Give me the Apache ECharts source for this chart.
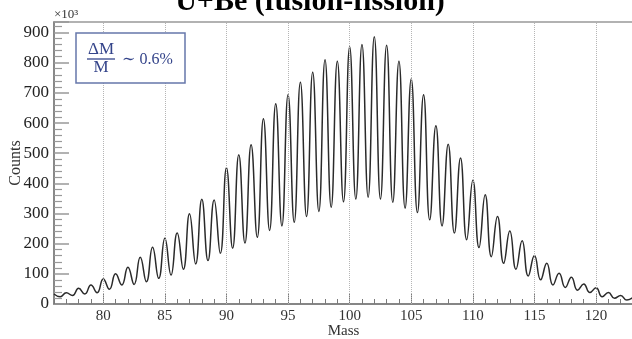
<!DOCTYPE html>
<html><head><meta charset="utf-8">
<script src="https://cdn.jsdelivr.net/npm/echarts@6/dist/echarts.min.js"></script>
<style>html,body{margin:0;padding:0;background:#fff}#c{width:632px;height:339px}</style>
</head><body><div id="c"></div>
<script>
// Peak heights (x10^3 counts) at integer masses
const peakMass = [76,77,78,79,80,81,82,83,84,85,86,87,88,89,90,91,92,93,94,95,96,97,98,99,100,101,102,103,104,105,106,107,108,109,110,111,112,113,114,115,116,117,118,119,120,121,122,123];
const peakCounts = [33,37,52,63,83,100,122,155,188,218,235,299,347,345,452,495,528,614,664,694,735,768,810,805,853,860,886,858,805,746,694,591,530,484,410,362,290,242,210,161,135,102,89,66,54,38,28,22];
// Valley heights between masses
const valleyMass = [76.5,77.5,78.5,79.5,80.5,81.5,82.5,83.5,84.5,85.5,86.5,87.5,88.5,89.5,90.5,91.5,92.5,93.5,94.5,95.5,96.5,97.5,98.5,99.5,100.5,101.5,102.5,103.5,104.5,105.5,106.5,107.5,108.5,109.5,110.5,111.5,112.5,113.5,114.5,115.5,116.5,117.5,118.5,119.5,120.5,121.5,122.5];
const valleyCounts = [24,28,33,37,49,63,65,74,85,96,115,133,144,168,185,202,221,244,259,271,290,307,321,339,348,354,348,337,318,303,279,259,235,213,187,157,135,115,93,80,63,55,46,38,24,19,13];
const majorMassTicks = [80,85,90,95,100,105,110,115,120];

const pts = [];
for (let i = 0; i < peakMass.length; i++) {
  pts.push([peakMass[i], peakCounts[i]]);
  if (i < valleyMass.length) pts.push([valleyMass[i], valleyCounts[i]]);
}

const serif = "'Liberation Serif','DejaVu Serif',serif";
const axisGray = '#7a7a7a';
const boxBlue = '#6677aa';
const txtBlue = '#34448a';

const chart = echarts.init(document.getElementById('c'), null, {renderer:'canvas'});
chart.setOption({
  animation: false,
  grid: {left: 54, right: -1, top: 22, bottom: 35, show: true, borderColor: '#999', borderWidth: 1.5,
    backgroundColor: 'transparent', containLabel: false, outerBoundsMode: 'none'},
  xAxis: [{
    type: 'value', min: 76, max: 123, interval: 1,
    name: 'Mass', nameLocation: 'middle', nameGap: 20, nameMoveOverlap: false,
    nameTextStyle: {fontFamily: serif, fontSize: 15, color: '#333', verticalAlign: 'top'},
    axisLine: {lineStyle: {color: axisGray, width: 1.5}},
    axisTick: {inside: true, length: 5, lineStyle: {color: axisGray}},
    axisLabel: {fontFamily: serif, fontSize: 15, color: '#333', margin: 5,
      formatter: v => (v % 5 === 0 ? String(v) : '')},
    splitLine: {show: false}
  }, {
    type: 'value', min: 76, max: 123, position: 'bottom',
    axisLine: {show: false},
    axisTick: {inside: true, length: 11, lineStyle: {color: axisGray}, customValues: majorMassTicks},
    axisLabel: {show: false},
    splitLine: {show: false}
  }],
  yAxis: {
    type: 'value', min: 0, max: 935, interval: 100,
    name: 'Counts', nameLocation: 'middle', nameGap: 30, nameMoveOverlap: false,
    nameTextStyle: {fontFamily: serif, fontSize: 16, color: '#333'},
    axisLine: {show: true, lineStyle: {color: axisGray, width: 1.5}},
    axisTick: {inside: true, length: 15, lineStyle: {color: '#999', width: 1.5}},
    minorTick: {show: true, splitNumber: 5, length: 8, lineStyle: {color: '#999', width: 1.2}},
    axisLabel: {fontFamily: serif, fontSize: 17, color: '#222', margin: 5, showMaxLabel: false},
    splitLine: {show: false}
  },
  graphic: [
    {type: 'text', x: 310, y: 17, z: 100,
      style: {text: 'U+Be (fusion-fission)', font: "bold 30px 'Liberation Serif','DejaVu Serif',serif", fill: '#000', align: 'center', verticalAlign: 'bottom'}},
    {type: 'text', x: 54, y: 21, z: 100,
      style: {text: '×10³', font: "13px 'Liberation Serif','DejaVu Serif',serif", fill: '#333', align: 'left', verticalAlign: 'bottom'}},
    {type: 'rect', shape: {x: 76, y: 33, width: 109, height: 50}, z: 100,
      style: {fill: '#fff', stroke: boxBlue, lineWidth: 1.5}},
    {type: 'text', x: 101, y: 50, z: 101,
      style: {text: 'ΔM', font: "17px 'Liberation Serif','DejaVu Serif',serif", fill: txtBlue, align: 'center', verticalAlign: 'middle'}},
    {type: 'line', shape: {x1: 87, y1: 59, x2: 115, y2: 59}, z: 101,
      style: {stroke: txtBlue, lineWidth: 1.3}},
    {type: 'text', x: 101, y: 68, z: 101,
      style: {text: 'M', font: "17px 'Liberation Serif','DejaVu Serif',serif", fill: txtBlue, align: 'center', verticalAlign: 'middle'}},
    {type: 'text', x: 122, y: 60, z: 101,
      style: {text: '∼ 0.6%', font: "16px 'Liberation Serif','DejaVu Serif',serif", fill: txtBlue, align: 'left', verticalAlign: 'middle'}}
  ],
  series: [{
    type: 'line', xAxisIndex: 0, data: pts, smooth: 0.5, symbol: 'none',
    lineStyle: {color: '#2a2a2a', width: 1.5},
    markLine: {
      silent: true, symbol: ['none', 'none'], label: {show: false},
      lineStyle: {type: 'dotted', color: '#b5b5b5', width: 1},
      data: majorMassTicks.map(v => ({xAxis: v}))
    }
  }]
});
</script></body></html>
